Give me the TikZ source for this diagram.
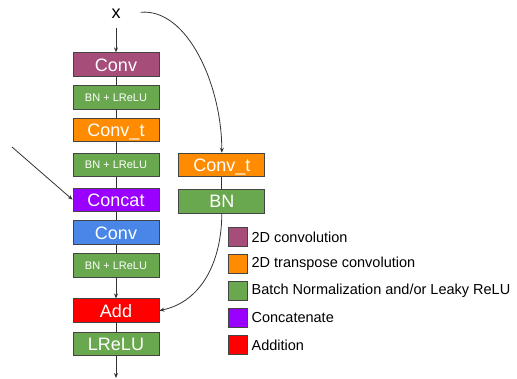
\documentclass[tikz,border=0pt]{standalone}
\usepackage{fontspec}
\setmainfont{Liberation Sans}
\usepackage{xcolor}
\usetikzlibrary{positioning,arrows.meta}

\definecolor{convpurple}{HTML}{A64D79}
\definecolor{tconvorange}{HTML}{FF8C00}
\definecolor{normgreen}{HTML}{6AA84F}
\definecolor{catviolet}{HTML}{9900FF}
\definecolor{convblue}{HTML}{4A86E8}
\definecolor{addred}{HTML}{FF0000}
\definecolor{edgegray}{HTML}{444444}
\definecolor{linegray}{HTML}{333333}

\begin{document}
\begin{tikzpicture}[
        x=1pt, y=1pt,
        node distance=8.5pt and 19pt,
        blk/.style={draw=edgegray, line width=0.8pt, text=white, minimum width=86pt, minimum height=23.5pt, inner sep=0pt},
        big/.style={blk, font=\fontsize{18}{18}\selectfont, text height=13pt, text depth=0pt},
        small/.style={blk, font=\fontsize{11}{11}\selectfont, text height=8pt, text depth=0pt},
        key/.style={draw=edgegray, line width=0.8pt, minimum size=19pt, inner sep=0pt},
        keytext/.style={font=\fontsize{14.5}{14.5}\selectfont, inner sep=0pt, anchor=west},
        link/.style={draw=linegray, line width=0.8pt},
        arr/.style={link, -{Stealth[length=5pt, width=4pt]}},
    ]
        \useasboundingbox (0,0) rectangle (517,-378);

        % main path
        \node[big, fill=convpurple] at (116,-64.5)     (conv) {Conv};
        \node[small, fill=normgreen, below=of conv]    (bna) {BN + LReLU};
        \node[big, fill=tconvorange, below=of bna]     (convt) {Conv\_t};
        \node[small, fill=normgreen, below=10.5pt of convt] (bnb) {BN + LReLU};
        \node[big, fill=catviolet, below=10.5pt of bnb]     (concat) {Concat};
        \node[big, fill=convblue, below=of concat]     (convb) {Conv};
        \node[small, fill=normgreen, below=of convb]   (bnc) {BN + LReLU};
        \node[big, fill=addred, below=21pt of bnc]     (add) {Add};
        \node[big, fill=normgreen, below=9pt of add]   (lrelu) {LReLU};

        % shortcut path
        \node[big, fill=tconvorange, right=of bnb]     (convs) {Conv\_t};
        \node[big, fill=normgreen, below=12pt of convs] (bns) {BN};

        \node[font=\fontsize{18}{18}\selectfont, inner sep=0pt] at (116,-14) (xin) {x};
        \coordinate (skip) at (12,-147);
        \coordinate[below=22pt of lrelu] (out);

        \draw[arr, shorten <=9pt] (xin) -- (conv);
        \draw[link] (conv) -- (bna);
        \draw[link] (bna) -- (convt);
        \draw[link] (convt) -- (bnb);
        \draw[link] (bnb) -- (concat);
        \draw[link] (concat) -- (convb);
        \draw[link] (convb) -- (bnc);
        \draw[arr] (bnc) -- (add);
        \draw[link] (add) -- (lrelu);
        \draw[arr] (lrelu) -- (out);

        \draw[arr] (skip) -- (concat.west);
        \draw[arr, shorten <=20pt] (xin.east) to[out=5, in=90] (convs.north);
        \draw[link] (convs) -- (bns);
        \draw[arr] (bns.south) to[out=-90, in=12] (add.east);

        % legend
        \foreach \i/\col/\txt in {0/convpurple/{2D convolution},
                                  1/tconvorange/{2D transpose convolution},
                                  2/normgreen/{Batch Normalization and/or Leaky ReLU},
                                  3/catviolet/{Concatenate},
                                  4/addred/{Addition}} {
            \node[key, fill=\col] at (237.5,-237-27*\i) (key\i) {};
            \node[keytext, right=4pt of key\i] (keylbl\i) {\txt};
        }
    \end{tikzpicture}
\end{document}
